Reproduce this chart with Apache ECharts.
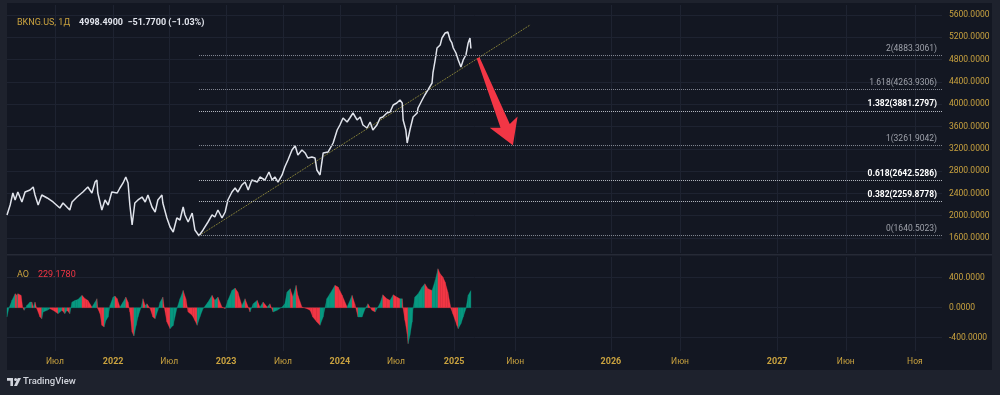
<!DOCTYPE html>
<html><head><meta charset="utf-8">
<script src="https://cdn.jsdelivr.net/npm/echarts@6/dist/echarts.min.js"></script>
<style>
html,body{margin:0;padding:0;background:#1e222d;}
#wrap{position:relative;width:1000px;height:395px;overflow:hidden;}
#panel{position:absolute;left:7px;top:3px;width:985px;height:367px;background:#131722;}
#chart{position:absolute;left:0;top:0;width:1000px;height:395px;}
</style></head><body>
<div id="wrap"><div id="panel"></div><div id="chart"></div></div>
<script>
// ---- data (x = trading session number from the first bar) ----
const priceBars = [0,7,13,18,24,33,40,51,58,62,69,77,89,102,117,124,139,144,155,168,179,188,195,199,201,210,217,224,232,244,250,257,263,268,272,277,283,290,299,306,312,321,328,334,343,345,354,361,368,376,383,390,394,401,410,416,425,434,445,454,460,467,476,483,489,498,505,511,520,527,534,542,554,560,571,580,587,593,600,609,615,622,631,638,644,653,660,666,675,682,686,693,697,700,711,722,731,737,744,753,759,766,775,782,788,797,804,810,819,826,832,841,848,855,863,870,875,877,883,886,892,899,908,910,919,925,932,941,943,948,952,959,963,970,976,981,985,988,994,999,1005,1010,1016,1021,1025,1027];
const priceValues = [2013,2192,2407,2282,2425,2246,2425,2461,2515,2371,2192,2371,2318,2246,2138,2228,2102,2246,2335,2425,2515,2407,2604,2640,2407,2102,2282,2192,2425,2407,2497,2587,2694,2587,2192,1833,2228,2282,2335,2246,2371,2156,2066,2282,2371,2228,1959,1797,1708,1959,1923,2156,2013,1887,2048,1744,1640.5,1744,1887,2013,1977,2102,1959,2066,2282,2425,2497,2425,2551,2604,2461,2640,2604,2694,2640,2784,2640,2694,2604,2730,2874,2999,3178,3255,3089,3178,3125,3035,3053,3035,2820,2730,2730,3125,3143,3304,3537,3627,3752,3681,3752,3842,3717,3770,3627,3573,3681,3537,3627,3752,3770,3842,3860,3986,4021,4075,4021,3717,3537,3304,3537,3770,3842,3932,4075,4165,4255,4380,4560,4793,5008,5062,5187,5277,5295,5152,5098,5008,4918,4793,4667,4793,4882,5098,5187,4998.49];

const aoBars = [0,4,11,18,22,24,31,35,38,44,51,55,58,62,66,73,77,80,89,95,102,113,122,128,133,139,144,151,157,166,173,179,188,195,199,201,206,210,215,219,224,228,235,239,244,250,257,263,268,272,277,281,286,290,297,301,306,310,317,323,328,334,339,345,348,354,361,368,376,383,390,396,401,410,416,421,427,434,445,454,460,467,476,483,489,498,505,511,520,527,534,538,545,554,560,567,576,582,589,598,609,615,620,627,633,640,644,653,664,671,677,686,693,700,708,715,726,733,742,753,764,770,777,786,793,799,808,815,826,832,841,848,855,863,870,875,877,881,886,888,892,897,899,903,910,919,925,932,941,948,954,959,965,970,976,983,987,996,999,1005,1010,1016,1021,1027];
const aoValues = [-124,-10,98,187,165,187,165,0,-35,31,75,75,9,75,-13,-124,-147,-58,-35,-13,-35,-80,-35,-80,-35,-80,75,98,110,165,120,98,9,75,120,-13,-80,-235,-258,-169,-124,31,142,155,120,9,75,142,75,-58,-324,-378,-235,-124,9,120,31,53,-13,-124,-147,-35,75,142,9,-191,-280,-235,-13,120,231,120,-58,-102,-170,-235,-124,-13,75,165,98,142,9,-13,98,231,262,209,31,120,9,-58,53,98,9,75,9,53,-58,-35,9,53,209,253,142,298,165,9,-13,-35,-124,-191,-235,-124,120,187,298,276,165,9,165,53,-124,-124,-13,53,-35,-58,60,173,120,98,173,142,120,120,-13,-169,-347,-480,-369,-191,-13,142,187,276,320,253,231,364,520,453,409,342,209,-13,-80,-235,-280,-213,-124,-13,165,229.178];

const fibRatios = ['0','0.382','0.618','1','1.382','1.618','2'];
const fibValues = [1640.5023,2259.8778,2642.5286,3261.9042,3881.2797,4263.9306,4883.3061];
const fibStrong = [false,true,true,false,true,false,false];
const fibStartBar = 425;

const trendBars = [425, 1158];
const trendValues = [1640.5, 5420];
const arrowFrom = [1043, 4830];
const arrowTo = [1120, 3262];

const timeTickBars = [106,235,359,485,611,737,861,990,1125,1337,1490,1705,1857,2010];
const timeTickLabels = ['Июл','2022','Июл','2023','Июл','2024','Июл','2025','Июн','2026','Июн','2027','Июн','Ноя'];
const priceTicks = [1600,2000,2400,2800,3200,3600,4000,4400,4800,5200,5600];
const aoTicks = [-400,0,400];

const symbolName = 'BKNG.US, 1Д';
const lastPrice = 4998.49, change = -51.77, changePct = -1.03;
const lastAO = 229.178;

// ---- chart ----
const FONT = 'Roboto, "Noto Sans", "DejaVu Sans", sans-serif';
const GOLD = '#c9a23f';
const GRIDC = '#1e2331';
const GREEN = '#089981', RED = '#f23645';
const X_MAX = 2070;
const FS = 8.5;

const aoSegments = aoBars.slice(0, -1).map((b, i) => [b, aoValues[i], aoBars[i + 1], aoValues[i + 1]]);

const fmtSigned = v => (v < 0 ? '\u2212' : '') + Math.abs(v).toFixed(4);

const fibMarks = fibValues.map((v, i) => [
  { coord: [fibStartBar, v],
    lineStyle: { color: fibStrong[i] ? '#b8bbc4' : '#858994', type: 'dotted', width: 1 },
    label: { show: true, position: 'insideEndTop', distance: [5, 2], fontSize: FS, fontFamily: FONT,
      color: fibStrong[i] ? '#ffffff' : '#9ea1aa', fontWeight: fibStrong[i] ? 'bold' : 'normal',
      formatter: fibRatios[i] + '(' + v.toFixed(4) + ')' } },
  { coord: [X_MAX, v] }
]);

const chart = echarts.init(document.getElementById('chart'), null, { renderer: 'canvas' });
chart.setOption({
  backgroundColor: 'transparent',
  animation: false,
  textStyle: { fontFamily: FONT },
  title: [
    { left: 12, top: 9, text: '{a|' + symbolName + '}  {b|' + lastPrice.toFixed(4) + '  ' + fmtSigned(change) + ' (' + (changePct < 0 ? '\u2212' : '') + Math.abs(changePct).toFixed(2) + '%)}',
      textStyle: { fontWeight: 'normal', rich: { a: { color: GOLD, fontSize: FS + 0.5, fontFamily: FONT, fontWeight: 'normal' }, b: { color: '#e0e3eb', fontSize: FS + 0.5, fontFamily: FONT, fontWeight: 'bold' } } } },
    { left: 12, top: 261, text: '{a|AO}  {b|' + lastAO.toFixed(4) + '}',
      textStyle: { fontWeight: 'normal', rich: { a: { color: GOLD, fontSize: FS + 0.5, fontFamily: FONT, fontWeight: 'normal' }, b: { color: RED, fontSize: FS + 0.5, fontFamily: FONT, fontWeight: 'normal' } } } }
  ],
  grid: [
    { left: 7, right: 58, top: 5, height: 248 },
    { left: 7, right: 58, top: 257, height: 94 }
  ],
  xAxis: [
    { gridIndex: 0, type: 'value', min: 0, max: X_MAX,
      axisLine: { show: false }, axisTick: { show: false, customValues: timeTickBars },
      axisLabel: { show: false, customValues: timeTickBars },
      splitLine: { show: true, customValues: timeTickBars, lineStyle: { color: GRIDC, width: 1 } } },
    { gridIndex: 1, type: 'value', min: 0, max: X_MAX,
      axisLine: { show: false }, axisTick: { show: false, customValues: timeTickBars },
      axisLabel: { show: true, customValues: timeTickBars, margin: 6, hideOverlap: false,
        formatter: v => { const i = timeTickBars.indexOf(Math.round(v)); if (i < 0) return ''; const t = timeTickLabels[i]; return /^\d{4}$/.test(t) ? '{y|' + t + '}' : '{m|' + t + '}'; },
        rich: { y: { color: GOLD, fontSize: FS + 0.5, fontWeight: 'bold', fontFamily: FONT }, m: { color: GOLD, fontSize: FS, fontFamily: FONT } } },
      splitLine: { show: true, customValues: timeTickBars, lineStyle: { color: GRIDC, width: 1 } } }
  ],
  yAxis: [
    { gridIndex: 0, type: 'value', position: 'right', min: 1331, max: 5779,
      axisLine: { show: false }, axisTick: { show: false, customValues: priceTicks },
      axisLabel: { customValues: priceTicks, color: GOLD, fontSize: FS, fontFamily: FONT, align: 'left', margin: 7, formatter: v => v.toFixed(4) },
      splitLine: { show: true, customValues: priceTicks, lineStyle: { color: GRIDC, width: 1 } } },
    { gridIndex: 1, type: 'value', position: 'right', min: -577, max: 676,
      axisLine: { show: false }, axisTick: { show: false, customValues: aoTicks },
      axisLabel: { customValues: aoTicks, color: GOLD, fontSize: FS, fontFamily: FONT, align: 'left', margin: 7, formatter: v => fmtSigned(v).replace('\u2212', '-') },
      splitLine: { show: true, customValues: aoTicks, lineStyle: { color: GRIDC, width: 1 } } }
  ],
  series: [
    { type: 'line', xAxisIndex: 0, yAxisIndex: 0, z: 3,
      data: priceBars.map((b, i) => [b, priceValues[i]]),
      showSymbol: false, symbol: 'none',
      lineStyle: { color: '#e0e3eb', width: 1.5 },
      markLine: { silent: true, symbol: ['none', 'none'], animation: false,
        data: fibMarks.concat([
          { yAxis: lastPrice, lineStyle: { opacity: 0 },
            label: { show: true, position: 'end', distance: 1, formatter: lastPrice.toFixed(4), color: '#131722',
              backgroundColor: '#00bcd4', padding: [2, 3, 2, 3], fontSize: FS + 0.5, fontFamily: FONT } }
        ]) } },
    { type: 'line', xAxisIndex: 0, yAxisIndex: 0, z: 2,
      data: trendBars.map((b, i) => [b, trendValues[i]]),
      showSymbol: false, symbol: 'none',
      lineStyle: { color: '#a39c3e', width: 1, type: 'dotted' } },
    { type: 'custom', xAxisIndex: 0, yAxisIndex: 0, z: 5,
      data: [[arrowFrom[0], arrowFrom[1], arrowTo[0], arrowTo[1]]],
      encode: { x: [0, 2], y: [1, 3] },
      renderItem: (params, api) => {
        const a = api.coord([api.value(0), api.value(1)]);
        const b = api.coord([api.value(2), api.value(3)]);
        const dx = b[0] - a[0], dy = b[1] - a[1], L = Math.hypot(dx, dy);
        const ux = dx / L, uy = dy / L, nx = -uy, ny = ux;
        const headLen = 25, headHalf = 15, join = 21, w0 = 1.5, w1 = 5;
        const jx = b[0] - ux * join, jy = b[1] - uy * join;
        const wx = b[0] - ux * headLen, wy = b[1] - uy * headLen;
        const pts = [
          [a[0] + nx * w0, a[1] + ny * w0],
          [jx + nx * w1, jy + ny * w1],
          [wx + nx * headHalf, wy + ny * headHalf],
          [b[0], b[1]],
          [wx - nx * headHalf, wy - ny * headHalf],
          [jx - nx * w1, jy - ny * w1],
          [a[0] - nx * w0, a[1] - ny * w0]
        ];
        return { type: 'polygon', shape: { points: pts }, style: { fill: RED } };
      } },
    { type: 'custom', xAxisIndex: 1, yAxisIndex: 1, z: 3,
      data: aoSegments,
      encode: { x: [0, 2], y: [1, 3] },
      renderItem: (params, api) => {
        const x0 = api.value(0), v0 = api.value(1), x1 = api.value(2), v1 = api.value(3);
        const p0 = api.coord([x0, 0]), p0v = api.coord([x0, v0]);
        const p1 = api.coord([x1, 0]), p1v = api.coord([x1, v1]);
        return { type: 'polygon', shape: { points: [p0, p0v, p1v, p1] },
          style: { fill: v1 >= v0 ? GREEN : RED, stroke: v1 >= v0 ? GREEN : RED, lineWidth: 0.3 } };
      } },
    { type: 'line', xAxisIndex: 1, yAxisIndex: 1, z: 1,
      data: [[aoBars[aoBars.length - 1], lastAO]], showSymbol: false, symbol: 'none',
      lineStyle: { opacity: 0 },
      markLine: { silent: true, symbol: ['none', 'none'], animation: false,
        data: [{ yAxis: lastAO, lineStyle: { opacity: 0 },
          label: { show: true, position: 'end', distance: 1, formatter: lastAO.toFixed(4), color: '#ffffff',
            backgroundColor: RED, padding: [2, 3, 2, 3], fontSize: FS + 0.5, fontFamily: FONT } }] } }
  ],
  graphic: [
    { type: 'rect', shape: { x: 7, y: 254, width: 985, height: 1.5 }, style: { fill: '#262a36' }, silent: true },
    { type: 'group', left: 7, top: 378, children: [
      { type: 'polygon', shape: { points: [[0, 0], [6, 0], [6, 8], [3.4, 8], [3.4, 2.6], [0, 2.6]] }, style: { fill: '#d1d4dc' } },
      { type: 'circle', shape: { cx: 8.6, cy: 1.4, r: 1.5 }, style: { fill: '#d1d4dc' } },
      { type: 'polygon', shape: { points: [[10.8, 0], [14, 0], [10, 8], [7, 8]] }, style: { fill: '#d1d4dc' } }
    ] },
    { type: 'text', left: 23, top: 377, style: { text: 'TradingView', fill: '#d1d4dc', fontSize: 9.5, fontFamily: FONT, fontWeight: 500 } }
  ]
});
</script>
</body></html>
